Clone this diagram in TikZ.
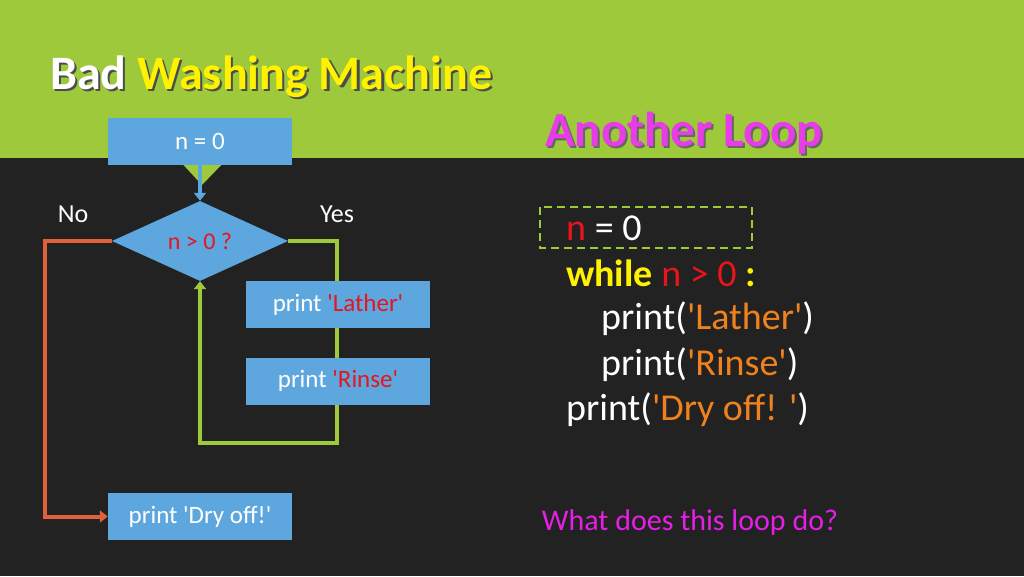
\documentclass[tikz,border=0pt]{standalone}
\usepackage{fontspec}
\setmainfont[Ligatures=TeXOff]{Carlito}
\usetikzlibrary{positioning, shapes.geometric, arrows.meta}
\definecolor{bgdark}{HTML}{222222}
\definecolor{bandgreen}{HTML}{9DC93B}
\definecolor{boxblue}{HTML}{5DA6DE}
\definecolor{noorange}{HTML}{E0603A}
\definecolor{strorange}{HTML}{F0821E}
\definecolor{varred}{HTML}{E8141E}
\definecolor{titlemag}{HTML}{E83CE8}
\definecolor{askmag}{HTML}{E61EE6}
\newcommand\sq{\char39}
\tikzset{
  flowbox/.style = {fill=boxblue, minimum width=184, minimum height=47, inner sep=0, text=white, font=\fontsize{25}{30}\selectfont},
  codeline/.style = {anchor=west, inner sep=0, text=white, font=\fontsize{38}{44}\selectfont},
  yesline/.style = {bandgreen, line width=4},
  noline/.style = {noorange, line width=4}
}
\begin{document}
\begin{tikzpicture}[x=1pt, y=-1pt]
\fill[bgdark] (0,0) rectangle (1024,576);
\fill[bandgreen] (0,0) rectangle (1024,158);
\fill[bandgreen] (177,158) -- (228,158) -- (202,185) -- cycle;
\useasboundingbox (0,0) rectangle (1024,576);

% title
\node[anchor=west, inner sep=0, font=\fontsize{48}{52}\selectfont\bfseries, text=black!70] at (52,79) {Bad Washing Machine};
\node (title) [anchor=west, inner sep=0, font=\fontsize{48}{52}\selectfont\bfseries, text=white] at (50,77) {Bad \textcolor{yellow}{Washing Machine}};
\node[inner sep=0, font=\fontsize{49}{54}\selectfont\bfseries, text=black!60] at (686,135) {Another Loop};
\node (subtitle) [inner sep=0, font=\fontsize{49}{54}\selectfont\bfseries, text=titlemag] at (684,133) {Another Loop};

% flowchart
\node (init) [flowbox] at (200,141.5) {n = 0};
\node (test) [diamond, fill=boxblue, minimum width=176, minimum height=80, aspect=2.2, inner sep=0, text=varred, font=\fontsize{24}{28}\selectfont] at (200,241) {n > 0 ?};
\node (dry) [flowbox] at (200,516.5) {print \sq Dry off!\sq};
\node (no) [text=white, font=\fontsize{26}{30}\selectfont] at (73,214) {No};
\node (yes) [text=white, font=\fontsize{26}{30}\selectfont] at (337,214) {Yes};

\draw[boxblue, line width=4, -{Triangle[length=8, width=12]}] (init.south) -- (test.north);
\draw[noline, -{Triangle[length=8, width=12]}] (test.west) -| (45,516.5) -- (dry.west);
\draw[yesline] (test.east) -| (337,443) -| (200,300);
\draw[yesline, -{Triangle[length=8, width=12]}] (200,300) -- (test.south);
\node (lather) [flowbox] at (338,304.5) {print \textcolor{varred}{\sq Lather\sq}};
\node (rinse) [flowbox] at (338,381) {print \textcolor{varred}{\sq Rinse\sq}};

% code
\draw[bandgreen, line width=2, dash pattern=on 8 off 5] (540,207) rectangle (752,248);
\node (c1) [codeline] at (566,228) {\textcolor{varred}{n} = 0};
\node (c2) [codeline] at (566,273) {\textcolor{yellow}{\bfseries while} \textcolor{varred}{n > 0} \textcolor{yellow}{\bfseries :}};
\node (c3) [codeline] at (601,319) {print(\textcolor{strorange}{\sq Lather\sq})};
\node (c4) [codeline] at (601,365) {print(\textcolor{strorange}{\sq Rinse\sq})};
\node (c5) [codeline] at (566,410) {print(\textcolor{strorange}{\sq Dry off! \sq})};
\node (question) [inner sep=0, text=askmag, font=\fontsize{30}{36}\selectfont] at (690,522) {What does this loop do?};
\end{tikzpicture}
\end{document}
